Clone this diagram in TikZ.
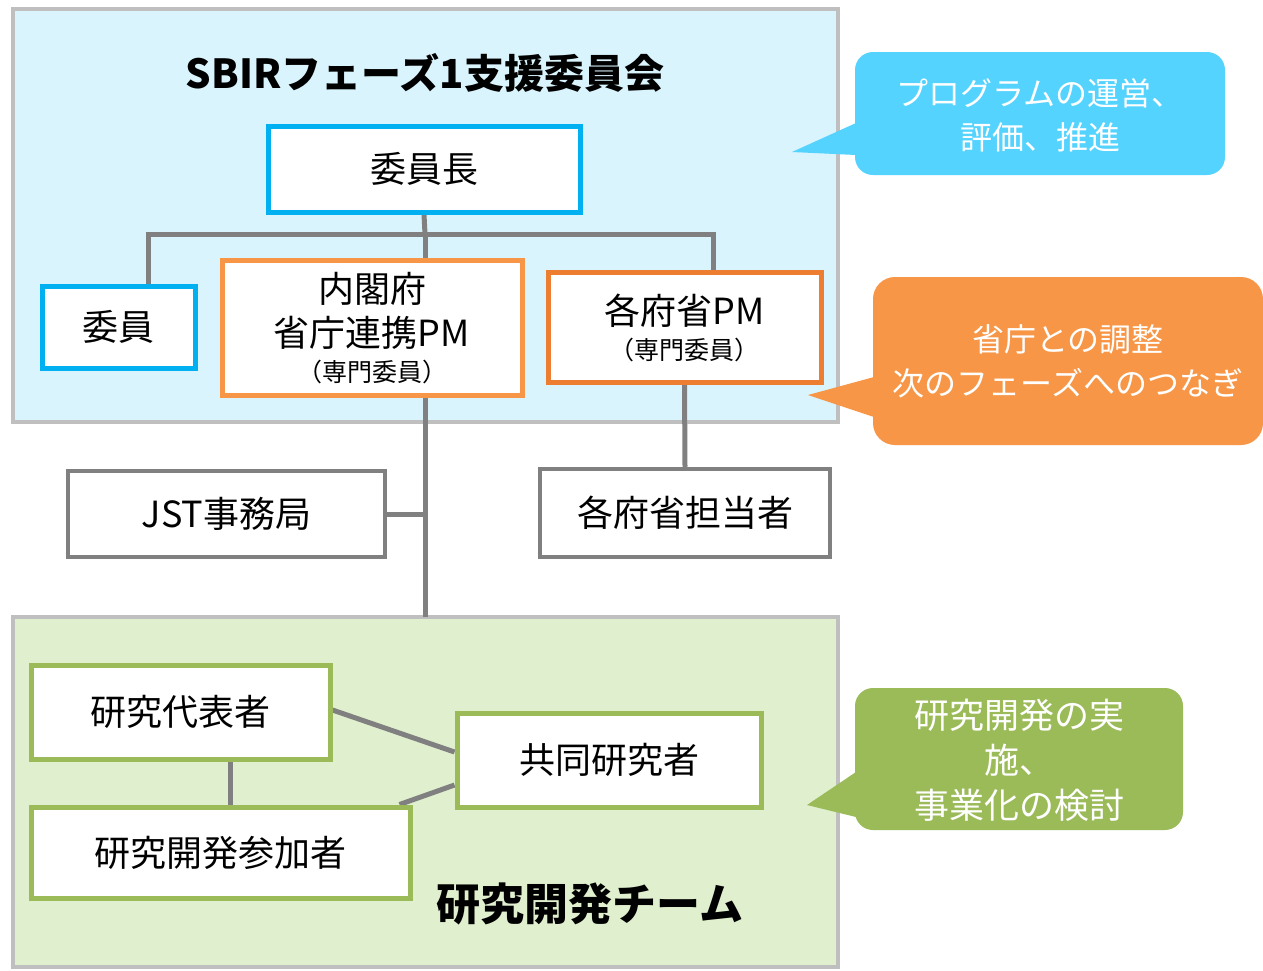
\documentclass[tikz,border=0pt]{standalone}
\usepackage{fontspec}
\setmainfont{Noto Sans CJK JP}
\pgfdeclarelayer{bg}
\pgfdeclarelayer{lines}
\pgfsetlayers{bg,lines,main}
\begin{document}
\begin{tikzpicture}[x=1pt,y=-1pt,
  panel/.style={draw=grayB, line width=4pt},
  box/.style={draw, fill=white, line width=5pt, inner sep=0pt, align=center, font=\fontsize{36}{44}\selectfont},
  bluebox/.style={box, draw=blueB},
  orbox/.style={box, draw=orL},
  or2box/.style={box, draw=orD},
  graybox/.style={box, draw=conn, line width=4.5pt},
  grbox/.style={box, draw=grB},
  conn/.style={draw=conn, line width=5pt},
  big/.style={font=\fontsize{36}{44}\selectfont},
  small/.style={font=\fontsize{25}{30}\selectfont},
  calltext/.style={text=white, align=center, inner sep=0pt}
]
\definecolor{grayB}{RGB}{191,191,191}
\definecolor{conn}{RGB}{128,128,128}
\definecolor{blueF}{RGB}{217,244,253}
\definecolor{greenF}{RGB}{224,239,205}
\definecolor{blueB}{RGB}{0,176,240}
\definecolor{orL}{RGB}{247,150,70}
\definecolor{orD}{RGB}{237,125,49}
\definecolor{grB}{RGB}{155,187,89}
\definecolor{callB}{RGB}{85,211,255}
\definecolor{callO}{RGB}{247,150,70}
\definecolor{callG}{RGB}{155,187,89}

\useasboundingbox (0,0) rectangle (1263,970);

% panels
\begin{pgfonlayer}{bg}
\fill[white] (0,0) rectangle (1263,970);
\draw[panel, fill=blueF] (13,9) rectangle (838,422);
\draw[panel, fill=greenF] (13,617) rectangle (838,967);
\end{pgfonlayer}

\node[font=\fontsize{40}{48}\selectfont\bfseries] (title1) at (425,73) {SBIRフェーズ1支援委員会};
\node[font=\fontsize{44}{52}\selectfont\bfseries] (title2) at (590,904) {研究開発チーム};

\coordinate (bus) at (425,234);
\coordinate (iintop) at (148,286);
\coordinate (kpmtop) at (713,272);
\coordinate (teamtop) at (425,617);

% boxes
\node[bluebox, minimum width=312pt, minimum height=86pt] (chair) at (424,169) {委員長};
\node[bluebox, minimum width=153pt, minimum height=82pt] (iin) at (118.5,327) {委員};
\node[orbox, minimum width=300pt, minimum height=135pt] (naikaku) at (372,327.5) {};
\node[big] (nk1) at (372,289) {内閣府};
\node[big] (nk2) at (372,333) {省庁連携PM};
\node[small] (nk3) at (372,372) {（専門委員）};
\node[or2box, minimum width=273pt, minimum height=110pt] (kpm) at (684.5,327) {};
\node[big] (kp1) at (684.5,311) {各府省PM};
\node[small] (kp2) at (684.5,350) {（専門委員）};

\node[graybox, minimum width=317pt, minimum height=86pt] (jst) at (226.5,514) {JST事務局};
\node[graybox, minimum width=290pt, minimum height=88pt] (tanto) at (685,513) {各府省担当者};

\node[grbox, minimum width=299pt, minimum height=94pt] (rep) at (180.5,712) {研究代表者};
\node[grbox, minimum width=379pt, minimum height=91pt] (part) at (220.5,852.5) {研究開発参加者};
\node[grbox, minimum width=304pt, minimum height=94pt] (co) at (609,760) {共同研究者};

% connectors
\begin{pgfonlayer}{lines}
\draw[conn] (chair.south) -- (bus);
\draw[conn] (iintop) -- (iintop |- bus) -- (kpmtop |- bus) -- (kpmtop);
\draw[conn] (bus) -- (naikaku.north -| bus);
\draw[conn] (naikaku.south -| bus) -- (teamtop);
\draw[conn] (jst.east) -- (jst.east -| bus);
\draw[conn] (kpm.south) -- (tanto.north);
\draw[conn] ([xshift=50pt]rep.south) -- ([xshift=50pt]rep.south |- part.north);
\draw[conn] ([yshift=2pt]rep.east) -- ([yshift=8pt]co.west);
\draw[conn] ([xshift=-13pt]part.north east) -- ([yshift=-25pt]co.west);
\end{pgfonlayer}

% callouts
\fill[callB, rounded corners=18pt] (855,52) rectangle (1225,175);
\fill[callB] (856,123) -- (792,152) -- (856,155) -- cycle;
\node[calltext, font=\fontsize{32}{44}\selectfont] (cb) at (1040,115) {プログラムの運営、\\評価、推進};

\fill[callO, rounded corners=22pt] (873,277) rectangle (1263,445);
\fill[callO] (874,377) -- (808,395) -- (874,417) -- cycle;
\node[calltext, font=\fontsize{32}{44}\selectfont] (co2) at (1068,361) {省庁との調整\\次のフェーズへのつなぎ};

\fill[callG, rounded corners=18pt] (855,688) rectangle (1183,830);
\fill[callG] (856,772) -- (807,805) -- (856,817) -- cycle;
\node[calltext, font=\fontsize{35}{45}\selectfont] (cg) at (1019,760) {研究開発の実\\施、\\事業化の検討};
\end{tikzpicture}
\end{document}
